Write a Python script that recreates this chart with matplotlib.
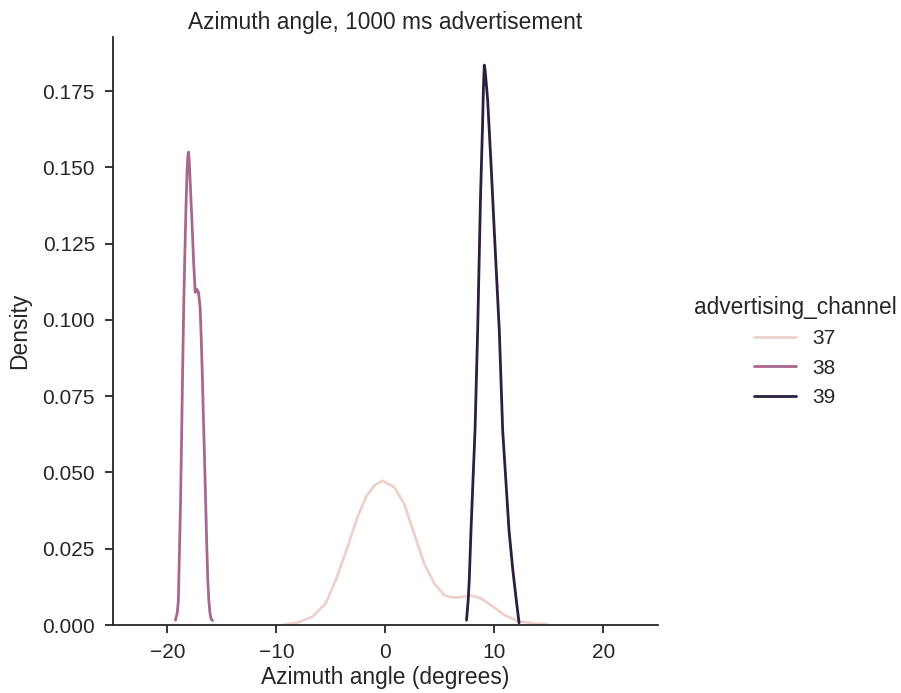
import matplotlib
matplotlib.use("Agg")
import matplotlib.pyplot as plt
import seaborn as sns

# density curves (x in degrees, y = density)
ch37_x = [-9.3, -8.99, -8.07, -6.69, -5.47, -4.55, -3.47, -2.55, -1.79, -1.03, -0.26,
          0.81, 1.73, 2.65, 3.57, 4.49, 5.4, 6.0, 6.64, 7.2, 7.86, 8.3, 8.78, 9.7,
          10.92, 12.15, 13.68, 14.6, 14.9]
ch37_y = [0.0002, 0.0003, 0.0008, 0.0027, 0.0071, 0.0147, 0.0256, 0.0354, 0.0419,
          0.0457, 0.0473, 0.0452, 0.0397, 0.0299, 0.0201, 0.0136, 0.0098, 0.0091,
          0.009, 0.0093, 0.0096, 0.0093, 0.0087, 0.0065, 0.0033, 0.0013, 0.0005,
          0.0003, 0.0002]

ch38_x = [-19.27, -19.1, -19.0, -18.9, -18.8, -18.7, -18.6, -18.5, -18.4, -18.3, -18.2,
          -18.12, -18.06, -18.0, -17.9, -17.8, -17.7, -17.6, -17.45, -17.3, -17.15,
          -17.0, -16.9, -16.8, -16.7, -16.6, -16.5, -16.4, -16.3, -16.2, -16.1, -16.0,
          -15.86]
ch38_y = [0.0016, 0.004, 0.008, 0.024, 0.04, 0.062, 0.085, 0.106, 0.122, 0.137, 0.149,
          0.154, 0.155, 0.152, 0.144, 0.136, 0.128, 0.119, 0.109, 0.110, 0.109, 0.104,
          0.094, 0.082, 0.068, 0.055, 0.041, 0.027, 0.015, 0.008, 0.004, 0.002, 0.0015]

ch39_x = [7.45, 7.6, 7.7, 7.86, 8.05, 8.23, 8.47, 8.73, 8.93, 9.0, 9.08, 9.15, 9.25,
          9.39, 9.7, 10.0, 10.46, 10.77, 11.35, 11.7, 11.99, 12.27]
ch39_y = [0.0016, 0.008, 0.0147, 0.031, 0.048, 0.0637, 0.0963, 0.1397, 0.165, 0.176,
          0.1835, 0.182, 0.178, 0.172, 0.151, 0.129, 0.0963, 0.0637, 0.031, 0.018,
          0.009, 0.0007]

channels = ["37", "38", "39"]

sns.set_style("ticks")
plt.rcParams["font.family"] = ["Liberation Sans", "DejaVu Sans"]

fig = plt.figure(figsize=(9.01, 6.93), dpi=100)
ax = fig.add_axes([0.1254, 0.0981, 0.6046, 0.8485])

cmap = sns.color_palette("ch:", as_cmap=True)
colors = [cmap(0.0), cmap(0.5), cmap(1.0)]

curves = [(ch37_x, ch37_y), (ch38_x, ch38_y), (ch39_x, ch39_y)]
lines = []
for (xs, ys), c, lab in zip(curves, colors, channels):
    ln, = ax.plot(xs, ys, color=c, lw=2.0, label=lab, solid_joinstyle="round")
    lines.append(ln)

ax.set_xlim(-25, 25)
ax.set_ylim(0, 0.1927)
ax.set_xticks([-20, -10, 0, 10, 20])
ax.set_yticks([0, 0.025, 0.05, 0.075, 0.1, 0.125, 0.15, 0.175])
ax.set_yticklabels(["0.000", "0.025", "0.050", "0.075", "0.100", "0.125", "0.150", "0.175"])
ax.tick_params(labelsize=15, length=6, width=1.3, pad=7, colors="#262626")
for s in ax.spines.values():
    s.set_linewidth(1.3)
    s.set_color("#262626")
ax.set_xlabel("Azimuth angle (degrees)", fontsize=16.4, color="#262626", labelpad=3)
ax.set_ylabel("Density", fontsize=16.4, color="#262626", labelpad=8)
ax.set_title("Azimuth angle, 1000 ms advertisement", fontsize=16.4, color="#262626")
sns.despine(ax=ax)

leg = fig.legend(lines, channels, title="advertising_channel", loc="center left",
                 bbox_to_anchor=(0.749, 0.493), frameon=False, fontsize=15,
                 title_fontsize=16.4, handlelength=2.0)
leg.get_title().set_color("#262626")

fig.savefig("out.png", dpi=100)
